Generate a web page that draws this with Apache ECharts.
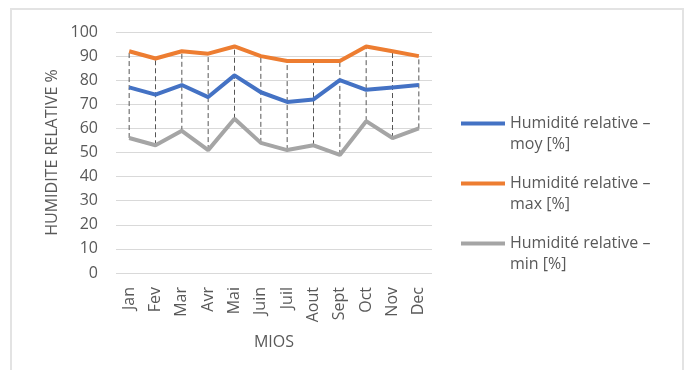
<!DOCTYPE html>
<html>
<head>
<meta charset="utf-8">
<script src="https://cdn.jsdelivr.net/npm/echarts@6/dist/echarts.min.js"></script>
<style>
  html, body { margin: 0; padding: 0; background: #fff; }
  #chart { width: 686px; height: 370px; }
</style>
</head>
<body>
<div id="chart"></div>
<script>
  const months = ['Jan', 'Fev', 'Mar', 'Avr', 'Mai', 'Juin', 'Juil', 'Aout', 'Sept', 'Oct', 'Nov', 'Dec'];
  const humMoy = [77, 74, 78, 73, 82, 75, 71, 72, 80, 76, 77, 78];
  const humMax = [92, 89, 92, 91, 94, 90, 88, 88, 88, 94, 92, 90];
  const humMin = [56, 53, 59, 51, 64, 54, 51, 53, 49, 63, 56, 60];
  const yTicks = [0, 10, 20, 30, 40, 50, 60, 70, 80, 90, 100];

  const txt = '#595959';
  const font = '"Open Sans", "Liberation Sans", sans-serif';

  // lignes haut-bas (max -> min) en pointillés
  const hiLo = [];
  for (var i = 0; i < months.length; i++) {
    hiLo.push([i, humMin[i], humMax[i]]);
  }

  let myChart = echarts.init(document.getElementById('chart'));
  myChart.setOption({
    animation: false,
    graphic: [{
      type: 'rect',
      shape: { x: 11, y: 9, width: 672, height: 370 },
      style: { fill: 'none', stroke: '#e3e3e3', lineWidth: 2 },
      silent: true
    }],
    grid: {
      left: 116,
      right: 254,
      top: 32,
      bottom: 97
    },
    legend: {
      orient: 'vertical',
      left: 461,
      top: 92,
      padding: 0,
      itemWidth: 44,
      itemHeight: 4,
      itemGap: -3,
      icon: 'rect',
      data: ['Humidité relative –\nmoy [%]', 'Humidité relative –\nmax [%]', 'Humidité relative –\nmin [%]'],
      // ligne vide en tête pour aligner la 1re ligne sur le trait
      formatter: function (name) { return ' \n' + name; },
      textStyle: {
        color: txt,
        fontSize: 16,
        fontFamily: font,
        lineHeight: 21
      }
    },
    xAxis: {
      type: 'category',
      data: months,
      name: 'MIOS',
      nameLocation: 'middle',
      nameGap: 61,
      nameTextStyle: { color: txt, fontSize: 16, fontFamily: font },
      axisLine: { show: false },
      axisTick: { show: false },
      axisLabel: {
        interval: 0,
        rotate: 90,
        margin: 14,
        color: txt,
        fontSize: 16,
        fontFamily: font
      }
    },
    yAxis: {
      type: 'value',
      min: 0,
      max: 100,
      interval: 10,
      name: 'HUMIDITE RELATIVE %',
      nameLocation: 'middle',
      nameGap: 56,
      nameTextStyle: { color: txt, fontSize: 16, fontFamily: font },
      axisLabel: {
        margin: 18,
        color: txt,
        fontSize: 16,
        fontFamily: font,
        formatter: function (v) { return yTicks.indexOf(v) >= 0 ? String(v) : ''; }
      },
      splitLine: { lineStyle: { color: '#d9d9d9', width: 1 } }
    },
    series: [{
      type: 'custom',
      z: 1,
      silent: true,
      data: hiLo,
      renderItem: function (params, api) {
        const p1 = api.coord([api.value(0), api.value(1)]);
        const p2 = api.coord([api.value(0), api.value(2)]);
        return {
          type: 'line',
          shape: { x1: p1[0], y1: p1[1], x2: p2[0], y2: p2[1] },
          style: { stroke: '#555555', lineWidth: 1, lineDash: [5, 3] }
        };
      }
    }, {
      name: 'Humidité relative –\nmoy [%]',
      type: 'line',
      z: 3,
      data: humMoy,
      color: '#4472C4',
      symbol: 'none',
      lineStyle: { width: 4 }
    }, {
      name: 'Humidité relative –\nmax [%]',
      type: 'line',
      z: 3,
      data: humMax,
      color: '#ED7D31',
      symbol: 'none',
      lineStyle: { width: 4 }
    }, {
      name: 'Humidité relative –\nmin [%]',
      type: 'line',
      z: 3,
      data: humMin,
      color: '#A5A5A5',
      symbol: 'none',
      lineStyle: { width: 4 }
    }]
  });
</script>
</body>
</html>
